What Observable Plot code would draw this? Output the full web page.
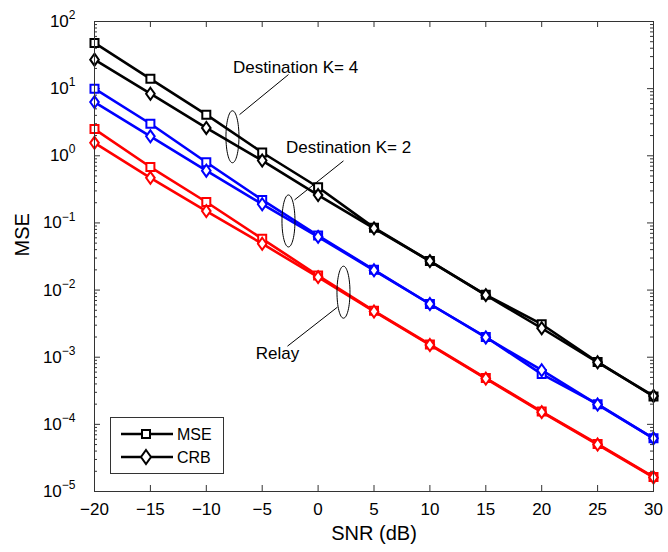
<!DOCTYPE html>
<html><head><meta charset="utf-8">
<script src="https://cdn.jsdelivr.net/npm/d3@7"></script>
<script src="https://cdn.jsdelivr.net/npm/@observablehq/plot@0.6"></script>
<style>
body{margin:0;background:#fff;overflow:hidden;}
#wrap{position:relative;width:668px;height:552px;font-family:"Liberation Sans",Arial,Helvetica,sans-serif;}
#wrap > svg.main{display:block;width:668px !important;height:552px !important;max-width:none !important;}
#legend{position:absolute;left:110px;top:417px;}
</style></head><body><div id="wrap"></div>
<script>
// ---- data ----
const snr = [-20, -15, -10, -5, 0, 5, 10, 15, 20, 25, 30];
const k4Mse = [48, 14, 4.1, 1.12, 0.34, 0.085, 0.027, 0.0085, 0.0031, 8.5e-4, 2.6e-4];
const k4Crb = [27, 8.4, 2.6, 0.85, 0.26, 0.083, 0.027, 0.0084, 0.0027, 8.4e-4, 2.65e-4];
const k2Mse = [10, 3.0, 0.8, 0.22, 0.065, 0.02, 0.0062, 0.002, 5.6e-4, 2.0e-4, 6.2e-5];
const k2Crb = [6.3, 1.95, 0.6, 0.19, 0.062, 0.0197, 0.0062, 0.00197, 6.4e-4, 1.97e-4, 6.2e-5];
const relayMse = [2.5, 0.68, 0.205, 0.058, 0.0165, 0.0049, 0.00155, 4.9e-4, 1.55e-4, 5.1e-5, 1.65e-5];
const relayCrb = [1.56, 0.47, 0.15, 0.049, 0.0156, 0.0048, 0.00152, 4.8e-4, 1.52e-4, 5.0e-5, 1.62e-5];
const groups = ["Destination K= 4", "Destination K= 2", "Relay"];
const groupColors = ["#000000", "#0000ff", "#ff0000"];
const xTicks = [-20, -15, -10, -5, 0, 5, 10, 15, 20, 25, 30];
const yTicks = [1e-5, 1e-4, 1e-3, 1e-2, 1e-1, 1e0, 1e1, 1e2];
const legendLabels = ["MSE", "CRB"];
// annotations (data coordinates)
const ellipses = [
  {x: -7.66, y: 1.92}, {x: -2.65, y: 0.107}, {x: 2.27, y: 0.0093}
];
const leaders = [
  {x1: -7.03, y1: 4.1, x2: -2.65, y2: 16.2},
  {x1: -2.11, y1: 0.22, x2: 2.27, y2: 0.84},
  {x1: 1.73, y1: 0.00557, x2: -2.74, y2: 0.00146}
];
const annLabels = [
  {x: -2.02, y: 20.6, text: "Destination K= 4", anchor: "start"},
  {x: 2.72, y: 1.31, text: "Destination K= 2", anchor: "start"},
  {x: -3.63, y: 0.00115, text: "Relay", anchor: "end"}
];

// ---- build series ----
const series = [
  {group: groups[0], kind: "MSE", values: k4Mse},
  {group: groups[0], kind: "CRB", values: k4Crb},
  {group: groups[1], kind: "MSE", values: k2Mse},
  {group: groups[1], kind: "CRB", values: k2Crb},
  {group: groups[2], kind: "MSE", values: relayMse},
  {group: groups[2], kind: "CRB", values: relayCrb}
];

function squareSym(h) {
  return {draw(ctx) { ctx.moveTo(-h, -h); ctx.lineTo(h, -h); ctx.lineTo(h, h); ctx.lineTo(-h, h); ctx.closePath(); }};
}
function diamondSym(w, h) {
  return {draw(ctx) { ctx.moveTo(0, -h); ctx.lineTo(w, 0); ctx.lineTo(0, h); ctx.lineTo(-w, 0); ctx.closePath(); }};
}
function ellipseSym(rx, ry) {
  return {draw(ctx) {
    const k = 0.5523;
    ctx.moveTo(rx, 0);
    ctx.bezierCurveTo(rx, ry * k, rx * k, ry, 0, ry);
    ctx.bezierCurveTo(-rx * k, ry, -rx, ry * k, -rx, 0);
    ctx.bezierCurveTo(-rx, -ry * k, -rx * k, -ry, 0, -ry);
    ctx.bezierCurveTo(rx * k, -ry, rx, -ry * k, rx, 0);
    ctx.closePath();
  }};
}

const W = 668, H = 552, mt = 21, mb = 61, ml = 94, mr = 15;
const ph = H - mt - mb, pw = W - ml - mr;
const minor = d3.scaleLog().domain([1e-5, 1e2]).ticks().filter(v => !yTicks.some(t => Math.abs(t - v) / t < 1e-9));
const colorOf = g => groupColors[groups.indexOf(g)];

const seriesMarks = [];
for (const s of series) {
  const rows = snr.map((x, i) => ({x, y: s.values[i]}));
  const c = colorOf(s.group);
  seriesMarks.push(Plot.line(rows, {x: "x", y: "y", stroke: c, strokeWidth: 2.6}));
  seriesMarks.push(Plot.dot(rows, {x: "x", y: "y", stroke: c, fill: "white", strokeWidth: 2,
    symbol: s.kind === "MSE" ? squareSym(4) : diamondSym(4.3, 6)}));
}

const chart = Plot.plot({
  width: W, height: H,
  marginTop: mt, marginBottom: mb, marginLeft: ml, marginRight: mr,
  style: {fontFamily: '"Liberation Sans", Arial, Helvetica, sans-serif', fontSize: "17px", color: "#000", background: "#fff"},
  x: {domain: [-20, 30]},
  y: {type: "log", domain: [1e-5, 1e2]},
  marks: [
    Plot.tickX(xTicks, {x: d => d, insetTop: ph - 6, stroke: "#333"}),
    Plot.tickX(xTicks, {x: d => d, insetBottom: ph - 6, stroke: "#333"}),
    Plot.tickY(yTicks, {y: d => d, insetRight: pw - 6, stroke: "#333"}),
    Plot.tickY(yTicks, {y: d => d, insetLeft: pw - 6, stroke: "#333"}),
    Plot.tickY(minor, {y: d => d, insetRight: pw - 3, stroke: "#333"}),
    Plot.tickY(minor, {y: d => d, insetLeft: pw - 3, stroke: "#333"}),
    Plot.axisX(xTicks, {tickSize: 0, tickPadding: 11, label: null, fontSize: 17,
      tickFormat: d => d < 0 ? "\u2212" + (-d) : String(d)}),
    Plot.axisY(yTicks, {tickSize: 0, tickPadding: 19, label: null, fontSize: 17,
      tickFormat: d => "10^" + Math.round(Math.log10(d))}),
    Plot.text(["SNR (dB)"], {frameAnchor: "bottom", lineAnchor: "middle", dy: 42, fontSize: 20}),
    Plot.text(["MSE"], {frameAnchor: "left", lineAnchor: "middle", dx: -72, rotate: -90, fontSize: 20}),
    ...seriesMarks,
    Plot.dot(ellipses, {x: "x", y: "y", symbol: ellipseSym(6.5, 26), stroke: "#000", fill: "none", strokeWidth: 1}),
    Plot.link(leaders, {x1: "x1", y1: "y1", x2: "x2", y2: "y2", stroke: "#000", strokeWidth: 1}),
    Plot.text(annLabels, {x: "x", y: "y", text: "text", textAnchor: d => d.anchor, fontSize: 17}),
    Plot.frame({stroke: "#333", strokeWidth: 1})
  ]
});
chart.classList.add("main");

// superscript exponents on y tick labels
const ns = "http://www.w3.org/2000/svg";
chart.querySelectorAll('g[aria-label="y-axis tick label"] text').forEach(t => {
  const s = t.textContent;
  if (!s.includes("^")) return;
  const [b, e] = s.split("^");
  t.textContent = "";
  const t1 = document.createElementNS(ns, "tspan"); t1.textContent = b;
  const t2 = document.createElementNS(ns, "tspan");
  t2.textContent = e.replace("-", "\u2212");
  t2.setAttribute("dy", "-0.65em");
  t2.setAttribute("font-size", "12px");
  t.appendChild(t1); t.appendChild(t2);
});

const wrap = document.getElementById("wrap");
wrap.appendChild(chart);

// legend box
const lg = document.createElementNS(ns, "svg");
lg.setAttribute("id", "legend");
lg.setAttribute("width", 115); lg.setAttribute("height", 58);
lg.innerHTML = `
  <rect x="0.5" y="0.5" width="113" height="56" fill="#fff" stroke="#333" stroke-width="1"/>
  <line x1="11" y1="17" x2="63" y2="17" stroke="#000" stroke-width="2.6"/>
  <rect x="32" y="13" width="8" height="8" fill="#fff" stroke="#000" stroke-width="2"/>
  <text x="67" y="17" dy="0.35em" font-size="16" font-family='"Liberation Sans", Arial, sans-serif'>${legendLabels[0]}</text>
  <line x1="11" y1="40" x2="63" y2="40" stroke="#000" stroke-width="2.6"/>
  <path d="M36,33 L41,40 L36,47 L31,40 Z" fill="#fff" stroke="#000" stroke-width="2"/>
  <text x="67" y="40" dy="0.35em" font-size="16" font-family='"Liberation Sans", Arial, sans-serif'>${legendLabels[1]}</text>
`;
wrap.appendChild(lg);
</script></body></html>
